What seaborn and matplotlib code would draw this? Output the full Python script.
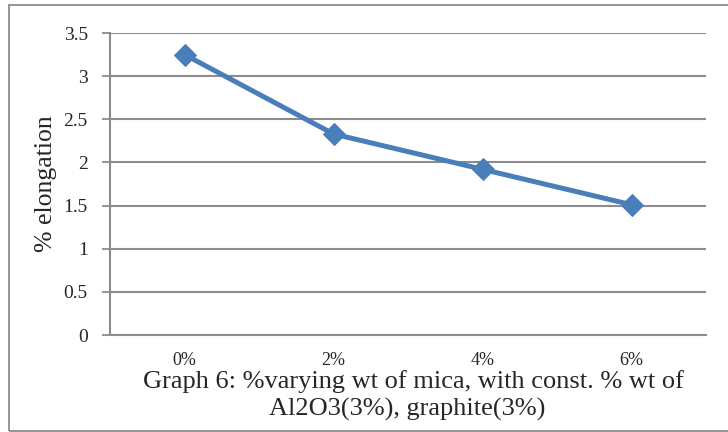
import matplotlib
matplotlib.use("Agg")
import matplotlib.pyplot as plt
import seaborn as sns
import pandas as pd
from matplotlib.patches import Rectangle

categories = ["0%", "2%", "4%", "6%"]
elongation = [3.25, 2.33, 1.92, 1.51]
yticks = [0, 0.5, 1, 1.5, 2, 2.5, 3, 3.5]
ytick_labels = ["0", "0.5", "1", "1.5", "2", "2.5", "3", "3.5"]

sns.set_style("white")
plt.rcParams['font.family'] = ['Liberation Serif', 'DejaVu Serif']

fig = plt.figure(figsize=(7.28, 4.32), dpi=100)
ax = fig.add_axes([110/728, 1-335/432, (706-110)/728, (335-33)/432])

df = pd.DataFrame({"mica": categories, "elong": elongation})
df["pos"] = range(len(categories))
sns.lineplot(data=df, x="pos", y="elong", ax=ax, color="#4a7ebb", linewidth=3.6,
             marker="D", markersize=11, markeredgecolor="#4a7ebb")

ax.set_xlim(-0.5, len(categories)-0.5)
ax.set_ylim(0, 3.5)
ax.set_yticks(yticks)
ax.set_yticklabels(ytick_labels, fontsize=14)
ax.set_xticks(range(len(categories)))
ax.set_xticklabels(categories, fontsize=13)
ax.tick_params(axis='x', length=0, pad=12)
ax.tick_params(axis='y', length=6, width=1.3, color="#8c8c8c", pad=10, left=True)
ax.yaxis.grid(True, color="#8c8c8c", linewidth=1.5)
ax.set_axisbelow(True)
for s in ["top", "right"]:
    ax.spines[s].set_visible(False)
for s in ["left", "bottom"]:
    ax.spines[s].set_color("#8c8c8c")
    ax.spines[s].set_linewidth(1.5)
ax.set_xlabel("")
ax.set_ylabel("% elongation", fontsize=18.5, labelpad=5)

fig.text(413/728, 1-382/432, "Graph 6: %varying wt of mica, with const. % wt of",
         ha="center", va="center", fontsize=19)
fig.text(407/728, 1-409/432, "Al2O3(3%), graphite(3%)",
         ha="center", va="center", fontsize=19)

fig.patches.append(Rectangle((9/728, 1/432), 740/728, (431-5)/432, transform=fig.transFigure,
                             fill=False, edgecolor="#8c8c8c", linewidth=1.3))

fig.savefig("out.png", dpi=100)
